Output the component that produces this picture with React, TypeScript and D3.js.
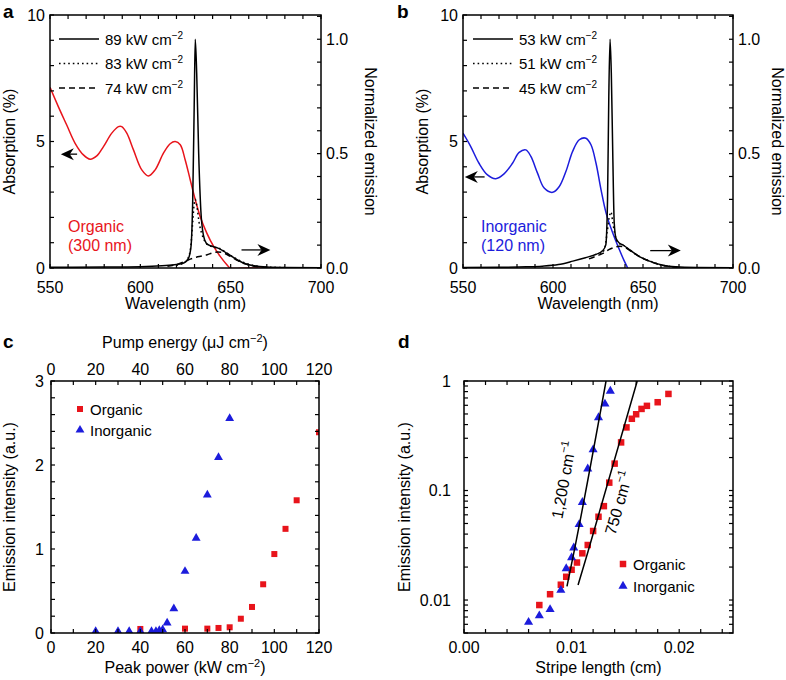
import React from 'react';
import * as d3 from 'd3';

const FONT = '"Liberation Sans", Arial, Helvetica, sans-serif';
const RED = '#e8141b';
const BLUE = '#1c1cdc';

// ---------- Panel a data ----------
const absOrganic: [number, number][] = [
  [550, 7.14], [554.6, 6.38], [559.2, 5.66], [563.9, 4.93], [568.5, 4.47], [572.2, 4.3], [575.9, 4.43],
  [579.6, 4.8], [584.2, 5.33], [587.9, 5.59], [589.7, 5.59], [592.5, 5.33], [596.2, 4.67], [600.8, 3.88],
  [604.5, 3.64], [608.2, 3.88], [612.8, 4.54], [616.5, 4.91], [619.3, 5.0], [622.1, 4.87], [624.8, 4.28],
  [627.6, 3.49], [630.4, 2.7], [633.1, 2.04], [636.8, 1.38], [640.5, 0.86], [644.2, 0.46], [647.9, 0.13],
  [649.8, 0], [660, 0], [690, 0], [700, 0],
];
const emA89: [number, number][] = [
  [550, 0.003], [580, 0.004], [600, 0.006], [612, 0.01], [620, 0.015], [624, 0.022], [626.5, 0.04],
  [628, 0.09], [629, 0.3], [629.8, 0.7], [630.4, 1.0], [631.2, 0.85], [632.3, 0.5], [633.5, 0.25],
  [635, 0.14], [636.5, 0.108], [638, 0.1], [640.5, 0.093], [643, 0.087], [646, 0.074], [650, 0.054],
  [653.5, 0.036], [657, 0.022], [662, 0.011], [670, 0.004], [680, 0.002], [700, 0.001],
];
const emA83: [number, number][] = [
  [620, 0.012], [624, 0.022], [626.5, 0.045], [628, 0.1], [629, 0.2], [629.8, 0.28], [630.4, 0.3],
  [631.3, 0.27], [632.5, 0.2], [634, 0.15], [635.5, 0.12], [637.5, 0.1], [640.5, 0.092], [644, 0.085],
  [648, 0.065], [652, 0.045], [656, 0.028], [661, 0.014], [668, 0.005], [680, 0.002],
];
const emA74: [number, number][] = [
  [615, 0.008], [620, 0.015], [625, 0.03], [628, 0.04], [631, 0.047], [634, 0.052], [637, 0.058],
  [640, 0.066], [643, 0.07], [646, 0.066], [650, 0.05], [654, 0.032], [658, 0.018], [663, 0.008], [670, 0.002],
];
const legendA = ['89', '83', '74'];

// ---------- Panel b data ----------
const absInorganic: [number, number][] = [
  [550, 5.33], [554.3, 4.8], [558.9, 4.14], [563.6, 3.68], [568.2, 3.53], [572.8, 3.72], [577.5, 4.14],
  [581.2, 4.57], [584.9, 4.67], [587.7, 4.41], [591.4, 3.75], [595.1, 3.16], [599.8, 2.99], [603.5, 3.22],
  [607.2, 3.82], [610.9, 4.61], [614.6, 5.07], [618.3, 5.13], [621.1, 4.87], [623.9, 4.14], [626.7, 3.09],
  [629.5, 2.17], [633.2, 1.38], [636.9, 0.72], [639.7, 0.26], [641.5, 0],
];
const emB53: [number, number][] = [
  [550, 0.002], [570, 0.003], [585, 0.005], [594, 0.008], [603, 0.015], [611, 0.03], [618, 0.045],
  [624, 0.06], [627.5, 0.075], [629.3, 0.1], [630.3, 0.3], [631, 0.75], [631.7, 1.0], [632.4, 0.85],
  [633.2, 0.5], [634, 0.2], [635, 0.13], [637, 0.108], [639, 0.1], [642.5, 0.08], [648, 0.05],
  [653.6, 0.03], [661, 0.012], [668, 0.005], [680, 0.002], [700, 0.001],
];
const emB51: [number, number][] = [
  [626, 0.06], [628.5, 0.08], [630, 0.15], [631.2, 0.22], [632.2, 0.245], [633.2, 0.2], [634.3, 0.15],
  [636, 0.11], [639, 0.1], [642.5, 0.08], [648, 0.05], [654, 0.03], [661, 0.012], [668, 0.005],
];
const emB45: [number, number][] = [
  [620, 0.04], [625, 0.055], [628, 0.065], [631, 0.08], [634, 0.09], [637, 0.095], [640, 0.09],
  [643, 0.075], [648, 0.05], [655, 0.025], [662, 0.01], [670, 0.003],
];
const legendB = ['53', '51', '45'];

// ---------- Panel c data ----------
const inorgCX = [20, 30, 35, 40, 45, 47, 48.5, 50, 52, 55, 60, 65, 70, 75, 80];
const inorgCY = [0.02, 0.02, 0.02, 0.02, 0.02, 0.02, 0.03, 0.04, 0.12, 0.29, 0.735, 1.13, 1.645, 2.09, 2.555];
const orgCX = [40, 60, 70, 75, 80, 85, 90, 95, 100, 105, 110, 120];
const orgCY = [0.048, 0.052, 0.052, 0.06, 0.068, 0.17, 0.31, 0.58, 0.94, 1.24, 1.58, 2.39];

// ---------- Panel d data ----------
const inorgDX = [0.006, 0.007, 0.008, 0.009, 0.0095, 0.01, 0.0102, 0.0107, 0.011, 0.0115, 0.012, 0.0125, 0.0131, 0.0136];
const inorgDY = [0.00627, 0.0072, 0.0082, 0.0123, 0.0194, 0.0244, 0.03, 0.049, 0.078, 0.158, 0.236, 0.464, 0.618, 0.81];
const orgDX = [0.007, 0.008, 0.009, 0.0095, 0.01, 0.0105, 0.011, 0.0115, 0.012, 0.0125, 0.013, 0.0135, 0.014, 0.0146, 0.0151, 0.0156, 0.016, 0.0165, 0.017, 0.018, 0.019];
const orgDY = [0.009, 0.0113, 0.0138, 0.0163, 0.0189, 0.022, 0.0267, 0.0318, 0.0427, 0.0576, 0.072, 0.118, 0.176, 0.275, 0.377, 0.452, 0.497, 0.556, 0.593, 0.64, 0.762];
const fit1200: [number, number][] = [[0.00957, 0.0133], [0.0103, 0.03], [0.0132, 1.0]];
const fit750: [number, number][] = [[0.0106, 0.0137], [0.0115, 0.0272], [0.0161, 1.0]];

// ---------- scales ----------
const xA = d3.scaleLinear([550, 700], [50, 321]);
const yAL = d3.scaleLinear([0, 10], [268, 15]);
const yAR = d3.scaleLinear([0, 1.106], [268, 15]);
const xB = d3.scaleLinear([550, 700], [463, 733]);
const yBL = d3.scaleLinear([0, 10], [268, 15]);
const yBR = d3.scaleLinear([0, 1.106], [268, 15]);
const xC = d3.scaleLinear([0, 120], [51, 319]);
const yC = d3.scaleLinear([0, 3], [633, 381]);
const xD = d3.scaleLinear([0, 0.025], [464, 733]);
const yD = d3.scaleLog([0.005, 1], [633, 381]);

const wlTicks = d3.range(550, 701, 10);
const wlLabels = [550, 600, 650, 700];
const absTicks = d3.range(0, 11, 1);
const absLabels = [0, 5, 10];
const emTicks = d3.range(0, 12).map((i) => i / 10);
const emLabels = [0, 0.5, 1.0];
const cxTicks = d3.range(0, 121, 10);
const cxLabels = [0, 20, 40, 60, 80, 100, 120];
const cyTicks = d3.range(0, 16).map((i) => i * 0.2);
const cyLabels = [0, 1, 2, 3];
const dxTicks = d3.range(0, 13).map((i) => i * 0.002);
const dxLabels = [0, 0.01, 0.02];
const dyTicks = [0.005, 0.006, 0.007, 0.008, 0.009, 0.01, 0.02, 0.03, 0.04, 0.05, 0.06, 0.07, 0.08, 0.09, 0.1, 0.2, 0.3, 0.4, 0.5, 0.6, 0.7, 0.8, 0.9, 1];
const dyLabels = [0.01, 0.1, 1];

type Lin = d3.ScaleLinear<number, number> | d3.ScaleLogarithmic<number, number>;

const TL = 4;

function XTicks({ sx, vals, y0, y1 }: { sx: Lin; vals: number[]; y0: number; y1: number }) {
  return (
    <g stroke="#000" strokeWidth={1.2}>
      {vals.map((v, i) => (
        <g key={i}>
          <line x1={sx(v)} x2={sx(v)} y1={y1} y2={y1 - TL} />
          <line x1={sx(v)} x2={sx(v)} y1={y0} y2={y0 + TL} />
        </g>
      ))}
    </g>
  );
}
function YTicks({ sy, vals, x0, x1, side }: { sy: Lin; vals: number[]; x0: number; x1: number; side: 'both' | 'left' | 'right' }) {
  return (
    <g stroke="#000" strokeWidth={1.2}>
      {vals.map((v, i) => (
        <g key={i}>
          {side !== 'right' && <line x1={x0} x2={x0 + TL} y1={sy(v)} y2={sy(v)} />}
          {side !== 'left' && <line x1={x1} x2={x1 - TL} y1={sy(v)} y2={sy(v)} />}
        </g>
      ))}
    </g>
  );
}
function Frame({ x0, x1, y0, y1 }: { x0: number; x1: number; y0: number; y1: number }) {
  return <rect x={x0} y={y0} width={x1 - x0} height={y1 - y0} fill="none" stroke="#000" strokeWidth={1.5} />;
}

function Arrow({ x1, y1, x2, y2 }: { x1: number; y1: number; x2: number; y2: number }) {
  const dir = Math.sign(x2 - x1);
  const hl = 13;
  const hw = 6;
  const bx = x2 - dir * hl;
  return (
    <g>
      <line x1={x1} y1={y1} x2={bx + dir * 4} y2={y2} stroke="#000" strokeWidth={1.3} />
      <path d={`M${x2},${y2} L${bx},${y2 - hw} L${bx + dir * 4},${y2} L${bx},${y2 + hw} Z`} fill="#000" />
    </g>
  );
}

const dashStyles = ['none', '1.6 3', '6 4'];

function SpectrumPanel({
  sx, syL, syR, abs, absColor, em, legend, legendX, matName, matThick, arrowL, arrowR, rightLabelX,
}: {
  sx: d3.ScaleLinear<number, number>; syL: d3.ScaleLinear<number, number>; syR: d3.ScaleLinear<number, number>;
  abs: [number, number][]; absColor: string; em: [number, number][][]; legend: string[]; legendX: number;
  matName: string; matThick: string; arrowL: number[]; arrowR: number[]; rightLabelX: number;
}) {
  const [x0, x1] = sx.range();
  const [y1, y0] = syL.range();
  const absLine = d3.line<[number, number]>().x((d) => sx(d[0])).y((d) => syL(d[1])).curve(d3.curveCatmullRom);
  const emLine = d3.line<[number, number]>().x((d) => sx(d[0])).y((d) => syR(d[1])).curve(d3.curveMonotoneX);
  const id = `clip${Math.round(x0)}`;
  return (
    <g>
      <defs>
        <clipPath id={id}>
          <rect x={x0} y={y0} width={x1 - x0} height={y1 - y0} />
        </clipPath>
      </defs>
      <g clipPath={`url(#${id})`}>
        <path d={absLine(abs) || ''} fill="none" stroke={absColor} strokeWidth={1.5} />
        {em.map((s, i) => (
          <path key={i} d={emLine(s) || ''} fill="none" stroke="#000" strokeWidth={1.5}
            strokeDasharray={dashStyles[i] === 'none' ? undefined : dashStyles[i]} />
        ))}
      </g>
      <XTicks sx={sx} vals={wlTicks} y0={y0} y1={y1} />
      <YTicks sy={syL} vals={absTicks} x0={x0} x1={x1} side="left" />
      <YTicks sy={syR} vals={emTicks} x0={x0} x1={x1} side="right" />
      <Frame x0={x0} x1={x1} y0={y0} y1={y1} />
      {wlLabels.map((v) => (
        <text key={v} x={sx(v)} y={293} textAnchor="middle">{v}</text>
      ))}
      {absLabels.map((v) => (
        <text key={v} x={x0 - 5} y={syL(v) + 5.5} textAnchor="end">{v}</text>
      ))}
      {emLabels.map((v) => (
        <text key={v} x={x1 + 5} y={syR(v) + 5.5} textAnchor="start">{v.toFixed(1)}</text>
      ))}
      <text x={(x0 + x1) / 2} y={309} textAnchor="middle">Wavelength (nm)</text>
      <text transform={`translate(${x0 - 35},${(y0 + y1) / 2}) rotate(-90)`} textAnchor="middle">Absorption (%)</text>
      <text transform={`translate(${rightLabelX},${(y0 + y1) / 2}) rotate(90)`} textAnchor="middle">Normalized emission</text>
      {legend.map((l, i) => (
        <g key={l}>
          <line x1={legendX} x2={legendX + 40} y1={39 + i * 24.5} y2={39 + i * 24.5} stroke="#000" strokeWidth={1.6}
            strokeDasharray={dashStyles[i] === 'none' ? undefined : dashStyles[i]} />
          <text x={legendX + 46} y={44.5 + i * 24.5} fontSize={15}>
            {l} kW cm<tspan dy={-6} fontSize={10}>−2</tspan>
          </text>
        </g>
      ))}
      <text x={x0 + 18} y={232} fill={absColor} fontSize={16}>{matName}</text>
      <text x={x0 + 18} y={251} fill={absColor} fontSize={16}>{matThick}</text>
      <Arrow x1={sx(arrowL[0])} y1={syL(arrowL[2])} x2={sx(arrowL[1])} y2={syL(arrowL[2])} />
      <Arrow x1={sx(arrowR[0])} y1={syR(arrowR[2])} x2={sx(arrowR[1])} y2={syR(arrowR[2])} />
    </g>
  );
}

function Square({ x, y, s, c }: { x: number; y: number; s: number; c: string }) {
  return <rect x={x - s / 2} y={y - s / 2} width={s} height={s} fill={c} />;
}
const triPath = (size: number) => d3.symbol(d3.symbolTriangle, size)() || '';

function PanelC() {
  const [x0, x1] = xC.range();
  const [y1, y0] = yC.range();
  const tri = triPath(34);
  return (
    <g>
      <defs>
        <clipPath id="clipC">
          <rect x={x0} y={y0} width={x1 - x0} height={y1 - y0} />
        </clipPath>
      </defs>
      <g clipPath="url(#clipC)">
        {orgCX.map((v, i) => (
          <Square key={i} x={xC(v)} y={yC(orgCY[i])} s={6} c={RED} />
        ))}
        {inorgCX.map((v, i) => (
          <path key={i} d={tri} transform={`translate(${xC(v)},${yC(inorgCY[i])})`} fill={BLUE} />
        ))}
      </g>
      <XTicks sx={xC} vals={cxTicks} y0={y0} y1={y1} />
      <YTicks sy={yC} vals={cyTicks} x0={x0} x1={x1} side="both" />
      <Frame x0={x0} x1={x1} y0={y0} y1={y1} />
      {cxLabels.map((v) => (
        <g key={v}>
          <text x={xC(v)} y={653} textAnchor="middle">{v}</text>
          <text x={xC(v)} y={375} textAnchor="middle">{v}</text>
        </g>
      ))}
      {cyLabels.map((v) => (
        <text key={v} x={x0 - 7} y={yC(v) + 5.5} textAnchor="end">{v}</text>
      ))}
      <text x={(x0 + x1) / 2} y={673} textAnchor="middle">
        Peak power (kW cm<tspan dy={-6} fontSize={11}>−2</tspan><tspan dy={6}>)</tspan>
      </text>
      <text x={(x0 + x1) / 2} y={348} textAnchor="middle">
        Pump energy (μJ cm<tspan dy={-6} fontSize={11}>−2</tspan><tspan dy={6}>)</tspan>
      </text>
      <text transform={`translate(15,${(y0 + y1) / 2}) rotate(-90)`} textAnchor="middle">Emission intensity (a.u.)</text>
      <Square x={80} y={409} s={6} c={RED} />
      <text x={90} y={414.5} fontSize={15}>Organic</text>
      <path d={tri} transform="translate(80,430)" fill={BLUE} />
      <text x={90} y={435.5} fontSize={15}>Inorganic</text>
    </g>
  );
}

function PanelD() {
  const [x0, x1] = xD.range();
  const [y1, y0] = yD.range();
  const tri = triPath(36);
  const fitLine = d3.line<[number, number]>().x((d) => xD(d[0])).y((d) => yD(d[1])).curve(d3.curveMonotoneX);
  return (
    <g>
      <defs>
        <clipPath id="clipD">
          <rect x={x0} y={y0} width={x1 - x0} height={y1 - y0} />
        </clipPath>
      </defs>
      <g clipPath="url(#clipD)">
        {orgDX.map((v, i) => (
          <Square key={i} x={xD(v)} y={yD(orgDY[i])} s={6.5} c={RED} />
        ))}
        {inorgDX.map((v, i) => (
          <path key={i} d={tri} transform={`translate(${xD(v)},${yD(inorgDY[i])})`} fill={BLUE} />
        ))}
        <path d={fitLine(fit1200) || ''} fill="none" stroke="#000" strokeWidth={1.5} />
        <path d={fitLine(fit750) || ''} fill="none" stroke="#000" strokeWidth={1.5} />
      </g>
      <XTicks sx={xD} vals={dxTicks} y0={y0} y1={y1} />
      <YTicks sy={yD} vals={dyTicks} x0={x0} x1={x1} side="both" />
      <Frame x0={x0} x1={x1} y0={y0} y1={y1} />
      {dxLabels.map((v) => (
        <text key={v} x={xD(v)} y={653} textAnchor="middle">{v.toFixed(2)}</text>
      ))}
      {dyLabels.map((v) => (
        <text key={v} x={x0 - 13} y={yD(v) + 5.5} textAnchor="end">{String(v)}</text>
      ))}
      <text x={(x0 + x1) / 2} y={673} textAnchor="middle">Stripe length (cm)</text>
      <text transform={`translate(410,${(y0 + y1) / 2}) rotate(-90)`} textAnchor="middle">Emission intensity (a.u.)</text>
      <text transform="translate(564,480) rotate(-79.5)" textAnchor="middle" dominantBaseline="central" fontSize={16}>
        1,200 cm<tspan dy={-6} fontSize={11}>−1</tspan>
      </text>
      <text transform="translate(619,503) rotate(-74)" textAnchor="middle" dominantBaseline="central" fontSize={16}>
        750 cm<tspan dy={-6} fontSize={11}>−1</tspan>
      </text>
      <Square x={623} y={564} s={6.5} c={RED} />
      <text x={633} y={569.5} fontSize={15}>Organic</text>
      <path d={tri} transform="translate(623,586)" fill={BLUE} />
      <text x={633} y={591.5} fontSize={15}>Inorganic</text>
    </g>
  );
}

export default function App() {
  return (
    <svg width={786} height={680} viewBox="0 0 786 680"
      style={{ position: 'absolute', left: 0, top: 0, background: '#fff' }}
      fontFamily={FONT} fontSize={16} fill="#000">
      <rect x={0} y={0} width={786} height={680} fill="#fff" />
      <SpectrumPanel sx={xA} syL={yAL} syR={yAR} abs={absOrganic} absColor={RED} em={[emA89, emA83, emA74]}
        legend={legendA} legendX={59} matName="Organic" matThick="(300 nm)"
        arrowL={[565, 556, 4.5]} arrowR={[656, 672, 0.079]} rightLabelX={365} />
      <SpectrumPanel sx={xB} syL={yBL} syR={yBR} abs={absInorganic} absColor={BLUE} em={[emB53, emB51, emB45]}
        legend={legendB} legendX={473} matName="Inorganic" matThick="(120 nm)"
        arrowL={[562, 551, 3.6]} arrowR={[654, 671, 0.076]} rightLabelX={772} />
      <PanelC />
      <PanelD />
      <text x={3} y={18} fontWeight="bold" fontSize={19}>a</text>
      <text x={397} y={18} fontWeight="bold" fontSize={19}>b</text>
      <text x={3} y={348} fontWeight="bold" fontSize={19}>c</text>
      <text x={398} y={348} fontWeight="bold" fontSize={19}>d</text>
    </svg>
  );
}
